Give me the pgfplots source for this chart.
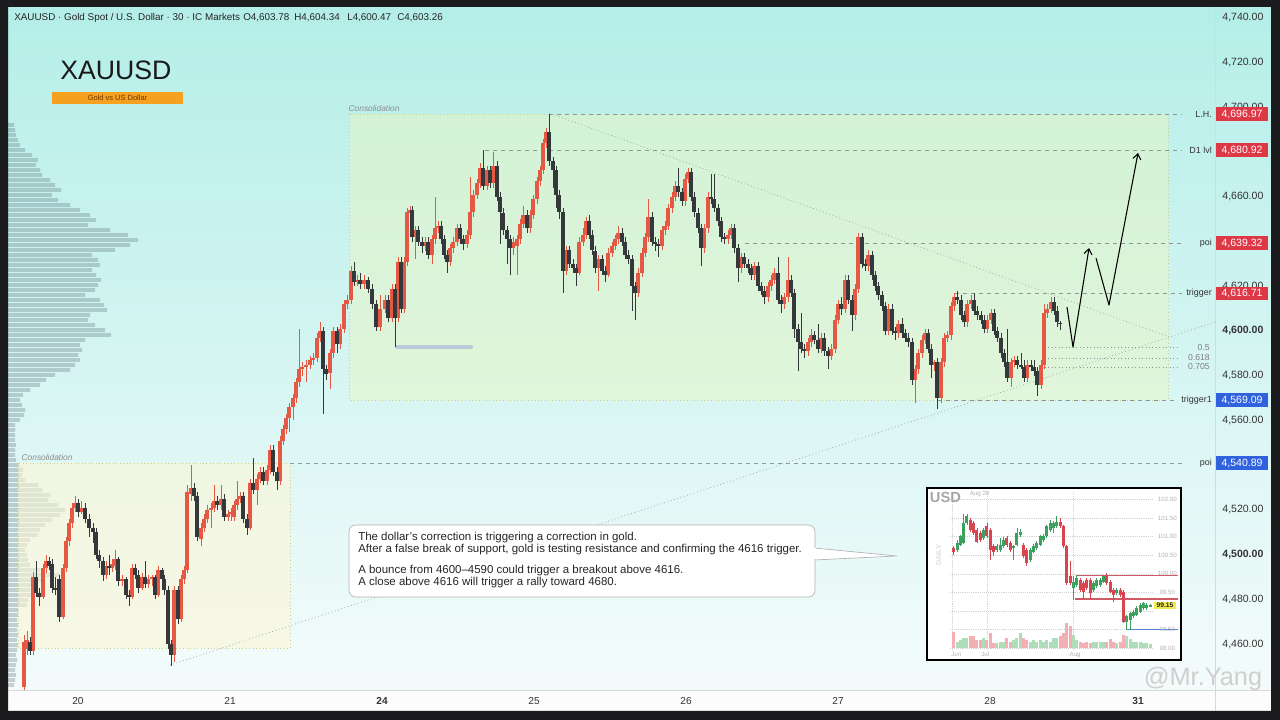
\documentclass[border=0pt]{standalone}
\usepackage{fontspec}
\setmainfont{Liberation Sans}
\usepackage{pgfplots}
\usepackage{pgfplotstable}
\pgfplotsset{compat=1.18}
\usetikzlibrary{arrows.meta}
\definecolor{framec}{RGB}{28,28,30}
\definecolor{bgtop}{RGB}{180,238,232}
\definecolor{bgmid}{RGB}{212,245,241}
\definecolor{bgbot}{RGB}{246,252,252}
\definecolor{upc}{RGB}{228,88,68}
\definecolor{dnc}{RGB}{52,56,58}
\definecolor{tagred}{RGB}{222,56,70}
\definecolor{tagblue}{RGB}{48,98,222}
\definecolor{lvl}{RGB}{140,150,150}
\definecolor{boxfill}{RGB}{236,246,190}
\definecolor{boxfilltwo}{RGB}{252,246,214}
\definecolor{boxline}{RGB}{212,206,130}
\definecolor{orangebox}{RGB}{245,160,30}
\definecolor{orangetext}{RGB}{110,55,0}
\definecolor{profc}{RGB}{100,120,130}
\definecolor{greybar}{RGB}{188,202,216}
\definecolor{igreen}{RGB}{60,160,95}
\definecolor{ired}{RGB}{215,70,80}
\definecolor{ivolg}{RGB}{175,220,185}
\definecolor{ivolr}{RGB}{242,175,180}
\definecolor{iline}{RGB}{205,90,100}
\definecolor{iblue}{RGB}{80,130,210}
\definecolor{itag}{RGB}{242,233,78}
\pgfplotsset{
  wick/.style={draw=none, mark=none, forget plot, error bars/.cd, y dir=both, y explicit, error mark=none, error bar style={line width=0.6pt, draw=#1}},
  body/.style={draw=none, mark=none, forget plot, error bars/.cd, y dir=both, y explicit, error mark=none, error bar style={line width=2.3pt, draw=#1}},
  ibody/.style={draw=none, mark=none, forget plot, error bars/.cd, y dir=both, y explicit, error mark=none, error bar style={line width=2.3pt, draw=#1}},
}
\pgfplotstableread{
x o h l c
24 4441 4464 4439 4461
27 4458 4466 4455 4462
30 4461 4463 4455 4457
33 4457 4492 4455 4490
36 4490 4497 4481 4483
39 4483 4485 4477 4481
43 4481 4496 4480 4494
46 4494 4500 4492 4497
49 4497 4499 4493 4495
52 4496 4498 4483 4485
55 4485 4490 4482 4484
59 4489 4491 4470 4472
63 4472 4496 4471 4494
66 4494 4508 4492 4506
69 4506 4516 4504 4514
72 4514 4523 4512 4521
75 4521 4526 4519 4523
78 4523 4525 4517 4519
81 4519 4524 4518 4521
85 4521 4523 4514 4516
89 4516 4518 4508 4512
93 4512 4514 4505 4510
96 4510 4512 4498 4500
99 4500 4502 4494 4497
103 4497 4499 4488 4491
106 4491 4497 4489 4495
109 4495 4500 4491 4494
112 4494 4498 4492 4496
115 4495 4502 4493 4498
118 4498 4499 4486 4488
122 4488 4491 4486 4489
126 4489 4490 4480 4482
129 4482 4484 4477 4481
132 4481 4496 4480 4494
135 4494 4496 4489 4491
138 4491 4493 4483 4485
142 4485 4492 4484 4490
145 4490 4497 4485 4487
148 4487 4491 4485 4489
152 4489 4491 4486 4490
155 4490 4491 4480 4482
158 4482 4495 4481 4493
162 4493 4494 4487 4489
164 4489 4491 4482 4484
168 4484 4486 4458 4460
171 4460 4462 4450 4455
174 4455 4486 4452 4484
178 4484 4486 4469 4471
181 4471 4491 4470 4489
184 4489 4495 4487 4493
187 4493 4531 4492 4528
191 4527 4540 4524 4530
194 4530 4532 4524 4526
197 4526 4528 4506 4508
201 4507 4514 4504 4512
204 4512 4518 4510 4516
207 4516 4522 4514 4520
211 4520 4523 4512 4521
214 4521 4531 4519 4524
217 4524 4526 4520 4522
221 4522 4531 4520 4525
224 4525 4527 4515 4517
228 4517 4520 4515 4518
231 4518 4521 4515 4519
234 4517 4524 4515 4522
237 4522 4533 4520 4525
240 4525 4528 4523 4526
243 4526 4528 4514 4516
247 4516 4518 4509 4512
250 4512 4534 4511 4532
253 4532 4543 4527 4529
257 4529 4536 4522 4534
260 4534 4539 4532 4537
263 4537 4539 4531 4533
267 4533 4540 4531 4538
270 4538 4549 4536 4547
273 4547 4549 4535 4537
277 4537 4539 4529 4533
280 4533 4553 4531 4551
283 4551 4558 4549 4556
286 4556 4563 4554 4561
289 4561 4568 4555 4566
293 4566 4572 4560 4570
296 4570 4579 4568 4577
299 4577 4601 4575 4583
302 4583 4586 4580 4584
306 4584 4587 4577 4585
310 4585 4589 4583 4587
313 4587 4590 4585 4588
317 4588 4599 4586 4597
320 4597 4604 4595 4600
323 4600 4602 4563 4583
326 4583 4585 4578 4581
330 4581 4592 4574 4590
333 4590 4602 4588 4600
337 4600 4602 4590 4594
340 4594 4603 4592 4601
344 4601 4614 4599 4612
347 4612 4616 4610 4614
351 4614 4629 4612 4627
354 4627 4631 4620 4622
357 4622 4625 4620 4623
360 4623 4626 4619 4621
364 4621 4625 4619 4623
368 4623 4624 4617 4619
372 4619 4621 4610 4612
376 4612 4614 4600 4602
380 4602 4616 4600 4610
385 4610 4616 4608 4614
388 4614 4616 4604 4606
392 4606 4621 4604 4619
395 4619 4621 4593 4606
398 4606 4633 4604 4631
401 4631 4633 4608 4610
404 4610 4633 4608 4631
407 4631 4655 4629 4653
410 4653 4656 4651 4654
412 4654 4656 4640 4642
415 4642 4647 4632 4645
418 4645 4647 4638 4640
422 4640 4642 4635 4638
425 4638 4642 4636 4640
428 4640 4642 4632 4634
432 4634 4643 4630 4641
435 4641 4660 4639 4646
438 4646 4649 4644 4647
441 4647 4649 4639 4641
444 4641 4643 4632 4634
447 4634 4636 4626 4631
450 4631 4639 4629 4637
453 4637 4642 4635 4640
457 4640 4648 4638 4646
460 4646 4648 4639 4641
463 4641 4643 4636 4639
467 4639 4645 4637 4643
470 4643 4669 4641 4653
473 4653 4663 4651 4661
477 4661 4668 4659 4666
480 4666 4675 4664 4673
483 4673 4681 4663 4665
487 4665 4674 4663 4672
490 4672 4674 4664 4666
493 4666 4680 4664 4674
497 4674 4676 4658 4660
500 4660 4662 4639 4653
503 4653 4655 4643 4645
507 4645 4647 4630 4641
510 4641 4643 4625 4637
513 4637 4642 4634 4640
517 4638 4643 4625 4641
520 4641 4650 4639 4648
523 4648 4656 4646 4652
527 4652 4654 4644 4646
530 4646 4654 4644 4652
533 4652 4661 4650 4659
537 4659 4669 4657 4667
540 4667 4674 4665 4672
543 4672 4686 4670 4684
546 4684 4691 4682 4689
549 4689 4697 4674 4676
553 4676 4678 4664 4672
556 4672 4674 4655 4661
559 4661 4663 4650 4653
563 4653 4655 4617 4627
566 4627 4638 4625 4636
569 4636 4638 4628 4630
573 4630 4632 4626 4628
576 4628 4630 4620 4626
579 4626 4642 4625 4640
583 4640 4646 4638 4643
586 4643 4651 4641 4649
589 4649 4652 4641 4643
592 4643 4645 4634 4636
595 4636 4638 4626 4628
598 4628 4634 4618 4632
602 4632 4634 4625 4627
605 4627 4629 4622 4625
608 4625 4637 4624 4635
612 4635 4640 4633 4638
615 4638 4643 4636 4641
618 4641 4647 4639 4644
622 4644 4646 4638 4640
625 4640 4642 4632 4634
628 4634 4636 4630 4632
632 4632 4634 4609 4620
635 4620 4622 4605 4617
638 4617 4628 4615 4626
642 4626 4637 4624 4635
645 4635 4644 4633 4642
648 4642 4659 4640 4651
652 4651 4653 4638 4640
655 4640 4642 4636 4639
658 4639 4641 4633 4638
662 4638 4647 4636 4645
665 4645 4649 4643 4647
668 4647 4657 4645 4655
672 4655 4662 4653 4660
675 4660 4667 4658 4665
678 4665 4673 4660 4662
682 4662 4664 4656 4658
685 4658 4670 4656 4668
688 4668 4673 4666 4671
691 4671 4673 4658 4660
694 4660 4662 4651 4653
698 4653 4655 4644 4646
701 4646 4648 4629 4637
704 4637 4648 4635 4646
708 4646 4662 4644 4660
711 4660 4670 4657 4659
714 4659 4670 4653 4655
718 4655 4657 4647 4649
721 4649 4651 4640 4642
724 4642 4644 4639 4641
728 4641 4645 4639 4643
731 4643 4648 4641 4646
734 4646 4648 4635 4637
738 4637 4639 4622 4628
741 4628 4635 4626 4633
744 4633 4635 4628 4630
748 4630 4632 4626 4628
751 4628 4630 4623 4625
754 4625 4631 4623 4629
758 4629 4631 4618 4620
761 4620 4622 4616 4618
764 4618 4620 4612 4615
768 4615 4622 4613 4620
771 4620 4625 4618 4623
774 4623 4628 4621 4626
778 4626 4633 4612 4614
781 4614 4616 4608 4612
784 4612 4617 4610 4615
788 4615 4633 4613 4623
791 4623 4625 4615 4617
794 4617 4619 4597 4601
798 4601 4603 4582 4595
801 4595 4608 4590 4592
804 4592 4594 4588 4591
808 4591 4597 4589 4595
811 4595 4601 4593 4598
814 4598 4600 4594 4596
818 4596 4603 4590 4592
821 4592 4599 4590 4597
824 4597 4599 4589 4591
828 4591 4593 4583 4589
831 4589 4594 4587 4592
835 4592 4607 4590 4605
838 4605 4614 4603 4612
841 4612 4615 4607 4610
845 4610 4625 4608 4623
848 4623 4625 4612 4614
852 4614 4616 4600 4607
855 4607 4621 4605 4619
858 4619 4644 4617 4642
862 4642 4644 4628 4630
865 4630 4632 4627 4629
868 4629 4636 4627 4634
872 4634 4636 4623 4625
875 4625 4627 4618 4620
878 4620 4622 4614 4616
882 4616 4618 4609 4611
885 4611 4613 4598 4600
888 4600 4612 4598 4610
892 4610 4612 4598 4600
895 4600 4602 4596 4599
898 4599 4605 4597 4603
902 4603 4606 4597 4599
905 4599 4601 4595 4597
908 4597 4599 4593 4595
912 4595 4597 4576 4578
915 4578 4585 4568 4583
918 4583 4592 4581 4590
922 4590 4598 4588 4596
925 4596 4601 4594 4599
928 4599 4601 4590 4592
931 4592 4594 4579 4585
934 4585 4587 4582 4586
937 4586 4588 4565 4570
941 4570 4588 4568 4586
944 4586 4599 4584 4597
947 4597 4600 4595 4598
951 4598 4613 4596 4611
954 4611 4617 4609 4615
957 4615 4618 4612 4614
961 4614 4616 4605 4607
964 4607 4609 4602 4604
967 4604 4614 4602 4612
971 4612 4616 4610 4614
974 4614 4617 4607 4609
977 4609 4611 4605 4607
981 4607 4609 4603 4605
984 4605 4607 4599 4601
987 4601 4607 4599 4605
991 4605 4610 4603 4608
994 4608 4610 4598 4600
997 4600 4602 4595 4597
1001 4597 4599 4588 4590
1004 4590 4592 4584 4586
1007 4586 4601 4577 4579
1011 4579 4588 4575 4586
1014 4586 4589 4584 4587
1017 4587 4589 4583 4585
1021 4585 4590 4583 4584
1024 4584 4587 4577 4579
1027 4579 4587 4577 4585
1031 4585 4587 4582 4584
1034 4584 4587 4580 4582
1037 4582 4584 4571 4576
1041 4576 4587 4574 4585
1044 4585 4612 4583 4608
1047 4608 4612 4606 4610
1051 4610 4615 4608 4613
1054 4613 4615 4607 4609
1057 4609 4611 4602 4604
1060 4603.78 4604.34 4600.47 4603.26
}\maindata
\pgfplotstableread{
x o h l c v
100 100.69 100.75 100.51 100.60 0.45
112 100.65 100.90 100.60 100.83 0.18
120 100.78 101.05 100.74 101.01 0.23
130 100.83 101.62 100.80 101.37 0.27
140 101.37 101.62 101.32 101.55 0.27
150 101.46 101.52 101.14 101.19 0.32
160 101.37 101.42 101.05 101.10 0.32
170 101.19 101.24 100.83 100.87 0.23
180 101.10 101.15 100.87 100.92 0.23
190 100.96 101.24 100.92 101.19 0.27
200 101.28 101.37 100.96 101.01 0.23
210 101.19 101.24 100.38 100.65 0.41
220 100.74 100.80 100.47 100.60 0.14
230 100.65 100.80 100.60 100.74 0.14
240 100.65 100.96 100.60 100.78 0.18
250 100.74 100.98 100.69 100.92 0.18
260 100.96 101.01 100.72 100.78 0.27
270 100.83 100.88 100.60 100.65 0.18
280 100.69 100.78 100.38 100.74 0.23
290 100.78 101.24 100.74 101.10 0.27
300 101.05 101.20 101.00 101.14 0.41
310 100.78 100.83 100.42 100.47 0.27
320 100.65 100.70 100.20 100.29 0.23
330 100.38 100.70 100.33 100.65 0.18
340 100.60 100.80 100.55 100.74 0.23
350 100.69 100.88 100.65 100.83 0.18
360 100.78 101.05 100.74 101.01 0.23
370 100.92 101.08 100.87 101.01 0.18
380 101.01 101.33 100.96 101.28 0.23
390 101.19 101.46 101.14 101.37 0.18
400 101.23 101.42 101.10 101.37 0.27
410 101.28 101.55 101.23 101.41 0.27
420 101.41 101.50 101.23 101.28 0.32
430 101.28 101.33 100.69 100.74 0.41
440 100.74 100.78 99.70 99.75 0.68
450 99.93 100.34 99.70 99.75 0.59
460 99.61 99.95 99.30 99.79 0.36
470 99.70 99.98 99.65 99.88 0.23
480 99.84 99.90 99.52 99.57 0.18
490 99.75 99.80 99.32 99.52 0.15
500 99.84 99.90 99.56 99.61 0.18
510 99.84 99.90 99.32 99.48 0.15
520 99.57 99.80 99.52 99.75 0.18
530 99.66 99.90 99.61 99.84 0.18
540 99.70 99.88 99.65 99.84 0.18
550 99.79 99.98 99.74 99.93 0.18
560 99.93 100.02 99.70 99.75 0.18
570 99.79 99.84 99.47 99.52 0.24
580 99.57 99.62 99.25 99.43 0.18
590 99.48 99.62 99.43 99.57 0.15
600 99.57 99.62 99.38 99.43 0.18
610 99.52 99.57 98.66 98.71 0.36
620 98.71 98.90 98.49 98.85 0.32
630 98.76 98.98 98.49 98.94 0.24
640 98.85 99.03 98.80 98.98 0.18
650 98.89 99.12 98.85 99.07 0.18
660 98.98 99.21 98.94 99.16 0.18
670 99.07 99.25 99.03 99.21 0.14
680 99.07 99.20 99.03 99.16 0.14
690 99.14 99.18 99.11 99.15 0.12
}\insetdata
\begin{document}
\begin{tikzpicture}
\path[use as bounding box] (0pt,0pt) rectangle (960pt,540pt);
\begin{scope}[x=0.75pt,y=0.75pt]
\fill[framec] (0,0) rectangle (1280,720);
\shade[top color=bgtop, middle color=bgmid, bottom color=bgbot] (8,9) rectangle (1271,713);
\fill[white!98!gray] (8,9) rectangle (1271,30);
\draw[gray!30, line width=0.5pt] (8,30) -- (1271,30);
\draw[gray!30, line width=0.5pt] (1215,9) -- (1215,713);
\begin{scope}[every node/.style={anchor=west, inner sep=0pt, font=\fontsize{7.4}{9}\selectfont, text=black!85}]
\node at (14,702) {XAUUSD · Gold Spot / U.S. Dollar · 30 · IC Markets};
\node at (243,702) {O4,603.78};
\node at (294,702) {H4,604.34};
\node at (347,702) {L4,600.47};
\node at (397,702) {C4,603.26};
\end{scope}
\node[anchor=base west, inner sep=0pt, font=\fontsize{20}{22}\selectfont, text=black!90] at (60,640) {XAUUSD};
\fill[orangebox] (52,628) rectangle (183,616);
\node[inner sep=0pt, font=\fontsize{5.6}{6}\selectfont, text=orangetext] at (117.5,622) {Gold vs US Dollar};
\end{scope}
\begin{axis}[at={(6pt,22.5pt)}, anchor=south west, scale only axis,
  width=905.25pt, height=512.25pt,
  xmin=8, xmax=1215, ymin=4439.45, ymax=4744.9,
  clip mode=individual, axis line style={draw=none}, tick style={draw=none},
  xtick={78,230,382,534,686,838,990,1138},
  xticklabels={20,21,\textbf{24},25,26,27,28,\textbf{31}},
  ytick={4460,4480,4500,4520,4540,4560,4580,4600,4620,4640,4660,4680,4700,4720,4740},
  yticklabels={{4,460.00},{4,480.00},{\textbf{4,500.00}},{4,520.00},{4,540.00},{4,560.00},{4,580.00},{\textbf{4,600.00}},{4,620.00},{4,640.00},{4,660.00},{4,680.00},{4,700.00},{4,720.00},{4,740.00}},
  yticklabel pos=right,
  yticklabel style={anchor=west, xshift=2pt, font=\fontsize{7.9}{9}\selectfont, text=black!80},
  xticklabel style={yshift=-2pt, font=\fontsize{7.6}{9}\selectfont, text=black!80},
]
\addplot[xbar, bar width=1.7, fill=profc, fill opacity=0.33, draw=none, forget plot] coordinates {
(14,4692.1)(15,4689.9)(16,4687.7)(18,4685.4)(20,4683.2)(25,4680.9)(32,4678.7)(38,4676.5)(36,4674.2)(40,4672.0)(42,4669.8)(50,4667.5)(55,4665.3)(61,4663.1)(52,4660.8)(58,4658.6)(70,4656.3)(80,4654.1)(90,4651.9)(96,4649.6)(88,4647.4)(110,4645.2)(128,4642.9)(138,4640.7)(130,4638.5)(115,4636.2)(92,4634.0)(98,4631.8)(100,4629.5)(92,4627.3)(96,4625.0)(101,4622.8)(98,4620.6)(95,4618.3)(85,4616.1)(100,4613.9)(104,4611.6)(107,4609.4)(90,4607.2)(88,4604.9)(95,4602.7)(105,4600.4)(111,4598.2)(85,4596.0)(80,4593.7)(82,4591.5)(78,4589.3)(80,4587.0)(75,4584.8)(70,4582.6)(55,4580.3)(46,4578.1)(40,4575.9)(30,4573.6)(23,4571.4)(20,4569.1)(22,4566.9)(25,4564.7)(24,4562.4)(20,4560.2)(15,4558.0)(15,4555.7)(15,4553.5)(15,4551.3)(16,4549.0)(15,4546.8)(15,4544.5)(16,4542.3)(20,4540.1)(23,4537.8)(22,4535.6)(25,4533.4)(38,4531.1)(42,4528.9)(50,4526.7)(48,4524.4)(58,4522.2)(65,4520.0)(60,4517.7)(52,4515.5)(45,4513.2)(40,4511.0)(38,4508.8)(30,4506.5)(27,4504.3)(25,4502.1)(27,4499.8)(28,4497.6)(30,4495.4)(40,4493.1)(60,4490.9)(45,4488.6)(32,4486.4)(30,4484.2)(31,4481.9)(28,4479.7)(27,4477.5)(18,4475.2)(18,4473.0)(17,4470.8)(18,4468.5)(17,4466.3)(18,4464.1)(17,4461.8)(18,4459.6)(17,4457.4)(16,4455.1)(17,4452.9)(16,4450.6)(15,4448.4)(16,4446.2)(15,4443.9)(14,4441.7)};
\fill[boxfilltwo, fill opacity=0.6] (axis cs:18,4540.89) rectangle (axis cs:290,4458.2);
\draw[boxline, dotted, line width=0.6pt] (axis cs:18,4540.89) rectangle (axis cs:290,4458.2);
\node[anchor=south west, inner sep=1pt, font=\itshape\fontsize{6.3}{7}\selectfont, text=black!45] at (axis cs:20,4541.5) {Consolidation};
\fill[boxfill, fill opacity=0.45] (axis cs:349,4696.97) rectangle (axis cs:1168,4569.09);
\draw[boxline, dotted, line width=0.6pt] (axis cs:349,4696.97) rectangle (axis cs:1168,4569.09);
\node[anchor=south west, inner sep=1pt, font=\itshape\fontsize{6.3}{7}\selectfont, text=black!45] at (axis cs:347,4697.5) {Consolidation};
\draw[lvl, dash pattern=on 3pt off 3pt, line width=0.6pt] (axis cs:549,4696.97) -- (axis cs:1182,4696.97);
\draw[lvl, dash pattern=on 3pt off 3pt, line width=0.6pt] (axis cs:485,4680.92) -- (axis cs:1182,4680.92);
\draw[lvl, dash pattern=on 3pt off 3pt, line width=0.6pt] (axis cs:745,4639.32) -- (axis cs:1182,4639.32);
\draw[lvl, dash pattern=on 3pt off 3pt, line width=0.6pt] (axis cs:955,4616.71) -- (axis cs:1182,4616.71);
\draw[lvl, dash pattern=on 3pt off 3pt, line width=0.6pt] (axis cs:938,4569.09) -- (axis cs:1176,4569.09);
\draw[lvl, dash pattern=on 3pt off 3pt, line width=0.6pt] (axis cs:290,4540.89) -- (axis cs:1182,4540.89);
\draw[lvl, dotted, line width=0.6pt] (axis cs:1045,4592.8) -- (axis cs:1180,4592.8);
\draw[lvl, dotted, line width=0.6pt] (axis cs:1045,4587.9) -- (axis cs:1180,4587.9);
\draw[lvl, dotted, line width=0.6pt] (axis cs:1045,4583.9) -- (axis cs:1180,4583.9);
\draw[lvl!80, dotted, line width=0.6pt] (axis cs:549,4697.5) -- (axis cs:1168,4597.5);
\draw[lvl!80, dotted, line width=0.6pt] (axis cs:170,4450.6) -- (axis cs:1215,4604);
\draw[greybar, line width=3.2pt, line cap=round] (axis cs:397,4592.8) -- (axis cs:471,4592.8);
\addplot[restrict expr to domain={\thisrow{c}-\thisrow{o}}{0:1000}, wick=upc] table[x=x, y expr={(\thisrow{h}+\thisrow{l})/2}, y error expr={(\thisrow{h}-\thisrow{l})/2}] {\maindata};
\addplot[restrict expr to domain={\thisrow{c}-\thisrow{o}}{-1000:-0.0001}, wick=dnc] table[x=x, y expr={(\thisrow{h}+\thisrow{l})/2}, y error expr={(\thisrow{h}-\thisrow{l})/2}] {\maindata};
\addplot[restrict expr to domain={\thisrow{c}-\thisrow{o}}{0:1000}, body=upc] table[x=x, y expr={(\thisrow{o}+\thisrow{c})/2}, y error expr={abs(\thisrow{c}-\thisrow{o})/2}] {\maindata};
\addplot[restrict expr to domain={\thisrow{c}-\thisrow{o}}{-1000:-0.0001}, body=dnc] table[x=x, y expr={(\thisrow{o}+\thisrow{c})/2}, y error expr={abs(\thisrow{c}-\thisrow{o})/2}] {\maindata};
\draw[black, line width=0.8pt, line join=round, -{Straight Barb[length=4pt,width=6pt]}] (axis cs:1067,4610.7) -- (axis cs:1073,4592.8) -- (axis cs:1089,4637.1);
\draw[black, line width=0.8pt, line join=round, -{Straight Barb[length=4pt,width=6pt]}] (axis cs:1096,4632.6) -- (axis cs:1109,4611.6) -- (axis cs:1138,4679.6);
\end{axis}
\begin{scope}[x=0.75pt,y=0.75pt]
\foreach \yy/\lab/\val/\col in {605.9/L.H./{4,696.97}/tagred, 569.9/D1 lvl/{4,680.92}/tagred, 476.9/poi/{4,639.32}/tagred, 426.4/trigger/{4,616.71}/tagred, 319.9/trigger1/{4,569.09}/tagblue, 256.8/poi/{4,540.89}/tagblue}{
  \fill[\col] (1216,\yy-6.7) rectangle (1268,\yy+6.7);
  \node[inner sep=0pt, font=\fontsize{7.9}{9}\selectfont, text=white] at (1242,\yy) {\val};
  \node[anchor=east, inner sep=0pt, font=\fontsize{6.7}{8}\selectfont, text=black!80] at (1212,\yy) {\lab};
}
\node[anchor=east, inner sep=0pt, font=\fontsize{6.5}{7}\selectfont, text=black!50] at (1210,372.9) {0.5};
\node[anchor=east, inner sep=0pt, font=\fontsize{6.5}{7}\selectfont, text=black!50] at (1210,362.4) {0.618};
\node[anchor=east, inner sep=0pt, font=\fontsize{6.5}{7}\selectfont, text=black!50] at (1210,353.0) {0.705};
\fill[white] (814,172) -- (897,164) -- (814,160) -- cycle;
\draw[black!30, line width=0.5pt] (814,172) -- (897,164) -- (814,160);
\draw[black!30, fill=white, line width=0.5pt, rounded corners=5pt] (349,195) rectangle (815,123);
\fill[white] (813.5,171.5) rectangle (816,160.5);
\begin{scope}[every node/.style={anchor=west, inner sep=0pt, font=\fontsize{8.6}{10}\selectfont, text=black!85}]
\node at (358,182) {The dollar's correction is triggering a correction in gold.};
\node at (358,170.5) {After a false break of support, gold is testing resistance and confirming the 4616 trigger.};
\node at (358,149) {A bounce from 4600--4590 could trigger a breakout above 4616.};
\node at (358,137.5) {A close above 4616 will trigger a rally toward 4680.};
\end{scope}
\end{scope}
\begin{axis}[at={(695.25pt,45pt)}, anchor=south west, scale only axis,
  width=190.5pt, height=129pt, xmin=20, xmax=783, ymin=97.675, ymax=102.315,
  axis background/.style={fill=white}, axis line style={line width=1.3pt, draw=black},
  xtick=\empty, ytick=\empty, clip mode=individual]
\pgfplotsinvokeforeach{98.0,98.5,99.0,99.5,100.0,100.5,101.0,101.5,102.0}{\draw[gray!35, densely dotted, line width=0.4pt] (axis cs:90,#1) -- (axis cs:700,#1);}
\pgfplotsinvokeforeach{95,200,460}{\draw[gray!35, densely dotted, line width=0.4pt] (axis cs:#1,97.95) -- (axis cs:#1,102.2);}
\addplot[restrict expr to domain={\thisrow{c}-\thisrow{o}}{0:1000}, ibody=ivolg] table[x=x, y expr={97.99+\thisrow{v}/2}, y error expr={\thisrow{v}/2}] {\insetdata};
\addplot[restrict expr to domain={\thisrow{c}-\thisrow{o}}{-1000:-0.0001}, ibody=ivolr] table[x=x, y expr={97.99+\thisrow{v}/2}, y error expr={\thisrow{v}/2}] {\insetdata};
\draw[iline, line width=0.8pt] (axis cs:470,99.95) -- (axis cs:775,99.95);
\draw[iline, line width=0.8pt] (axis cs:465,99.32) -- (axis cs:775,99.32);
\draw[iblue, line width=0.8pt] (axis cs:620,98.49) -- (axis cs:775,98.49);
\addplot[restrict expr to domain={\thisrow{c}-\thisrow{o}}{0:1000}, wick=igreen] table[x=x, y expr={(\thisrow{h}+\thisrow{l})/2}, y error expr={(\thisrow{h}-\thisrow{l})/2}] {\insetdata};
\addplot[restrict expr to domain={\thisrow{c}-\thisrow{o}}{-1000:-0.0001}, wick=ired] table[x=x, y expr={(\thisrow{h}+\thisrow{l})/2}, y error expr={(\thisrow{h}-\thisrow{l})/2}] {\insetdata};
\addplot[restrict expr to domain={\thisrow{c}-\thisrow{o}}{0:1000}, ibody=igreen] table[x=x, y expr={(\thisrow{o}+\thisrow{c})/2}, y error expr={abs(\thisrow{c}-\thisrow{o})/2}] {\insetdata};
\addplot[restrict expr to domain={\thisrow{c}-\thisrow{o}}{-1000:-0.0001}, ibody=ired] table[x=x, y expr={(\thisrow{o}+\thisrow{c})/2}, y error expr={abs(\thisrow{c}-\thisrow{o})/2}] {\insetdata};
\begin{scope}[every node/.style={inner sep=0pt, font=\fontsize{4.6}{5}\selectfont, text=gray!60}]
\node at (axis cs:742,102.0) {102.00};
\node at (axis cs:742,101.5) {101.50};
\node at (axis cs:742,101.0) {101.00};
\node at (axis cs:742,100.5) {100.50};
\node at (axis cs:742,100.0) {100.00};
\node at (axis cs:742,99.5) {99.50};
\node at (axis cs:742,98.5) {98.50};
\node at (axis cs:742,98.0) {98.00};
\node at (axis cs:108,97.82) {Jun};
\node at (axis cs:195,97.82) {Jul};
\node at (axis cs:465,97.82) {Aug};
\node[anchor=west] at (axis cs:148,102.14) {Aug 28};
\end{scope}
\fill[itag] (axis cs:703,99.25) rectangle (axis cs:767,99.05);
\node[inner sep=0pt, font=\bfseries\fontsize{5}{6}\selectfont, text=black!85] at (axis cs:735,99.15) {99.15};
\node[anchor=west, inner sep=0pt, font=\bfseries\fontsize{11}{12}\selectfont, text=gray!70] at (axis cs:28,102.07) {USD};
\node[rotate=90, inner sep=0pt, font=\bfseries\fontsize{5.5}{6}\selectfont, text=gray!25] at (axis cs:55,100.5) {DAILY};
\end{axis}
\begin{scope}[x=0.75pt,y=0.75pt]
\node[inner sep=0pt, font=\fontsize{19}{20}\selectfont, text=gray!38] at (1203,41) {@Mr.Yang};
\fill[framec, even odd rule] (0,0) rectangle (1280,720) (8,9) rectangle (1271,713);
\end{scope}
\end{tikzpicture}
\end{document}
